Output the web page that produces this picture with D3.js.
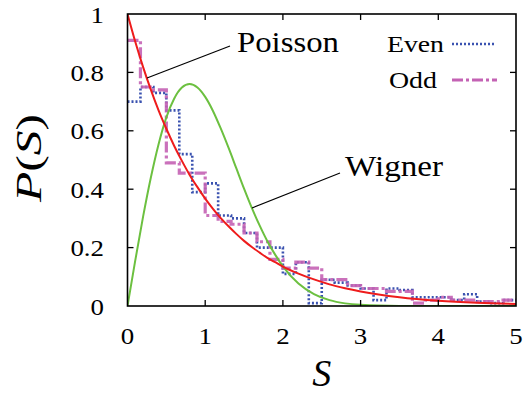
<!DOCTYPE html>
<meta charset="utf-8">
<head>
  <script src="https://cdn.jsdelivr.net/npm/d3@7"></script>
  <style>
    body { margin: 0; background: #fff; }
  </style>
</head>
<body>
<script type="text/javascript">

// histogram bins, width 1/6
var binWidth = 1 / 6;
var evenVals = [0.70, 0.75, 0.73, 0.67, 0.52, 0.39, 0.42, 0.31, 0.30, 0.25,
                0.20, 0.20, 0.11, 0.15, 0.01, 0.09, 0.08, 0.07, 0.06, 0.02,
                0.06, 0.055, 0.03, 0.03, 0.03, 0.02, 0.04, 0.015, 0.01, 0.02];
var oddVals  = [0.91, 0.75, 0.74, 0.49, 0.455, 0.455, 0.31, 0.29, 0.28, 0.25,
                0.22, 0.16, 0.13, 0.15, 0.13, 0.09, 0.09, 0.07, 0.06, 0.06,
                0.05, 0.05, 0.01, 0.02, 0.03, 0.02, 0.02, 0.015, 0.015, 0.02];

// smooth curves
var curveS   = [0, 0.1, 0.2, 0.3, 0.4, 0.5, 0.6, 0.7, 0.8, 0.9, 1.0, 1.1, 1.2, 1.3, 1.4,
                1.5, 1.6, 1.7, 1.8, 1.9, 2.0, 2.2, 2.4, 2.6, 2.8, 3.0, 3.5, 4.0, 4.5, 5.0];
var poisson  = [1, 0.905, 0.819, 0.741, 0.670, 0.607, 0.549, 0.497, 0.449, 0.407, 0.368,
                0.333, 0.301, 0.273, 0.247, 0.223, 0.202, 0.183, 0.165, 0.150, 0.135,
                0.111, 0.091, 0.074, 0.061, 0.050, 0.030, 0.018, 0.011, 0.007];
var wigner   = [0, 0.156, 0.305, 0.439, 0.554, 0.646, 0.710, 0.748, 0.760, 0.748, 0.716,
                0.668, 0.608, 0.542, 0.472, 0.402, 0.336, 0.276, 0.222, 0.176, 0.136,
                0.077, 0.041, 0.020, 0.009, 0.004, 0.0003, 0, 0, 0];

var xTicks = [0, 1, 2, 3, 4, 5];
var yTicks = [0, 0.2, 0.4, 0.6, 0.8, 1];
var yTickLabels = ["0", "0.2", "0.4", "0.6", "0.8", "1"];

var w = 527, h = 394;
var pL = 127.5, pR = 516, pT = 14, pB = 306;
var serif = "'Liberation Serif'";

var svg = d3.select("body").append("svg")
    .attr("width", w)
    .attr("height", h);

var x = d3.scaleLinear().domain([0, 5]).range([pL, pR]);
var y = d3.scaleLinear().domain([0, 1]).range([pB, pT]);

svg.append("clipPath").attr("id", "clip")
  .append("rect")
    .attr("x", pL).attr("y", pT - 2)
    .attr("width", pR - pL).attr("height", pB - pT + 2);

var plot = svg.append("g").attr("clip-path", "url(#clip)");

function steps(vals) {
  var pts = vals.map(function(v, i) { return [i * binWidth, v]; });
  pts.push([5, vals[vals.length - 1]]);
  return pts;
}

var stepLine = d3.line()
    .x(function(d) { return x(d[0]); })
    .y(function(d) { return y(d[1]); })
    .curve(d3.curveStepAfter);

var smooth = d3.line()
    .x(function(d) { return x(d[0]); })
    .y(function(d) { return y(d[1]); })
    .curve(d3.curveMonotoneX);

plot.append("path")
    .attr("d", stepLine(steps(evenVals)))
    .attr("fill", "none")
    .attr("stroke", "#3a52b0")
    .attr("stroke-width", 2.6)
    .attr("stroke-dasharray", "2,2");

plot.append("path")
    .attr("d", stepLine(steps(oddVals)))
    .attr("fill", "none")
    .attr("stroke", "#c462b4")
    .attr("stroke-opacity", 0.9)
    .attr("stroke-width", 3.2)
    .attr("stroke-dasharray", "11,3,3,3");

plot.append("path")
    .attr("d", smooth(curveS.map(function(s, i) { return [s, wigner[i]]; })))
    .attr("fill", "none")
    .attr("stroke", "#6cc040")
    .attr("stroke-width", 2);

plot.append("path")
    .attr("d", smooth(curveS.map(function(s, i) { return [s, poisson[i]]; })))
    .attr("fill", "none")
    .attr("stroke", "#ee1c1c")
    .attr("stroke-width", 2);

// frame and inward ticks
svg.append("rect")
    .attr("x", pL).attr("y", pT)
    .attr("width", pR - pL).attr("height", pB - pT)
    .attr("fill", "none").attr("stroke", "#000").attr("stroke-width", 1.6);

var tl = 6;
xTicks.slice(1, -1).forEach(function(t) {
  svg.append("line").attr("x1", x(t)).attr("x2", x(t)).attr("y1", pB).attr("y2", pB - tl)
     .attr("stroke", "#000").attr("stroke-width", 1.3);
  svg.append("line").attr("x1", x(t)).attr("x2", x(t)).attr("y1", pT).attr("y2", pT + tl)
     .attr("stroke", "#000").attr("stroke-width", 1.3);
});
yTicks.slice(1, -1).forEach(function(t) {
  svg.append("line").attr("y1", y(t)).attr("y2", y(t)).attr("x1", pL).attr("x2", pL + tl)
     .attr("stroke", "#000").attr("stroke-width", 1.3);
  svg.append("line").attr("y1", y(t)).attr("y2", y(t)).attr("x1", pR).attr("x2", pR - tl)
     .attr("stroke", "#000").attr("stroke-width", 1.3);
});

function stretch(sel, k) {
  sel.each(function() {
    var L = this.getComputedTextLength();
    d3.select(this).attr("textLength", L * k).attr("lengthAdjust", "spacingAndGlyphs");
  });
}

var xl = svg.selectAll(".xl").data(xTicks).enter().append("text")
    .style("font-family", serif)
    .attr("x", function(d) { return x(d); })
    .attr("y", 344)
    .attr("text-anchor", "middle")
    .attr("font-size", 24)
    .text(function(d) { return d; });
stretch(xl, 1.12);

var yl = svg.selectAll(".yl").data(yTicks).enter().append("text")
    .style("font-family", serif)
    .attr("x", 104)
    .attr("y", function(d) { return y(d) + 8.5; })
    .attr("text-anchor", "end")
    .attr("font-size", 24)
    .text(function(d, i) { return yTickLabels[i]; });
stretch(yl, 1.12);

// axis titles
svg.append("text")
    .style("font-family", serif)
    .attr("x", (pL + pR) / 2)
    .attr("y", 386)
    .attr("text-anchor", "middle")
    .attr("font-size", 38)
    .attr("font-style", "italic")
    .text("S");

var yt = svg.append("text")
    .style("font-family", serif)
    .attr("transform", "translate(41,158) rotate(-90)")
    .attr("text-anchor", "middle")
    .attr("font-size", 36)
    .attr("textLength", 88)
    .attr("lengthAdjust", "spacingAndGlyphs");
yt.append("tspan").attr("font-style", "italic").text("P");
yt.append("tspan").text("(");
yt.append("tspan").attr("font-style", "italic").text("S");
yt.append("tspan").text(")");

// curve labels
svg.append("line").attr("x1", 147).attr("y1", 78).attr("x2", 230).attr("y2", 46)
   .attr("stroke", "#000").attr("stroke-width", 1.2);
svg.append("text").style("font-family", serif).attr("x", 237).attr("y", 52).attr("font-size", 29)
   .attr("textLength", 102).attr("lengthAdjust", "spacingAndGlyphs").text("Poisson");

svg.append("line").attr("x1", 252).attr("y1", 208).attr("x2", 340).attr("y2", 173)
   .attr("stroke", "#000").attr("stroke-width", 1.2);
svg.append("text").style("font-family", serif).attr("x", 345).attr("y", 176).attr("font-size", 29)
   .attr("textLength", 98).attr("lengthAdjust", "spacingAndGlyphs").text("Wigner");

// legend
svg.append("text").style("font-family", serif).attr("x", 444).attr("y", 52)
   .attr("text-anchor", "end").attr("font-size", 23)
   .attr("textLength", 57).attr("lengthAdjust", "spacingAndGlyphs").text("Even");
svg.append("line").attr("x1", 452).attr("x2", 496).attr("y1", 44).attr("y2", 44)
   .attr("stroke", "#3a52b0").attr("stroke-width", 2.6).attr("stroke-dasharray", "2,2");

svg.append("text").style("font-family", serif).attr("x", 437).attr("y", 88)
   .attr("text-anchor", "end").attr("font-size", 23)
   .attr("textLength", 48).attr("lengthAdjust", "spacingAndGlyphs").text("Odd");
svg.append("line").attr("x1", 452).attr("x2", 497).attr("y1", 80).attr("y2", 80)
   .attr("stroke", "#c462b4").attr("stroke-width", 3.2).attr("stroke-dasharray", "11,3,3,3");

</script>
</body>
